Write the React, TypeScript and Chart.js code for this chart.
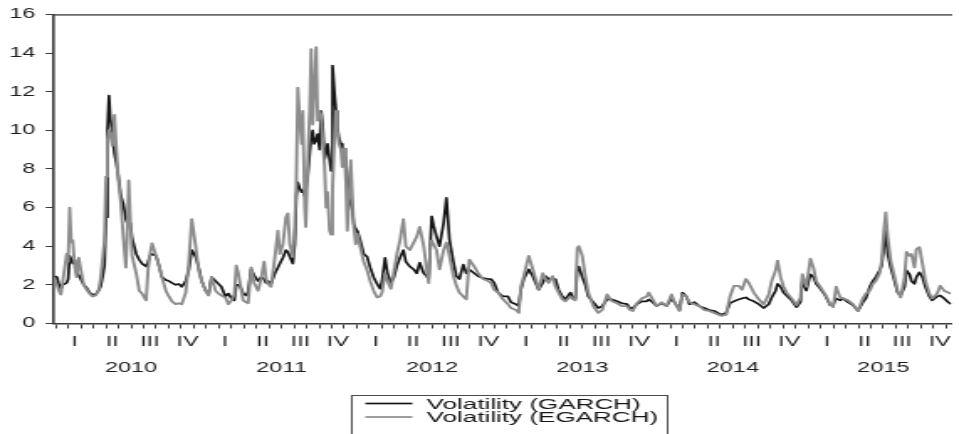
import React, { useEffect, useRef } from "react";
import { Chart, registerables } from "chart.js";

Chart.register(...registerables);

// Observation dates as decimal years
const dates = [
  2009.993, 2010.007, 2010.020, 2010.033, 2010.046, 2010.059, 2010.072, 2010.082, 2010.092, 2010.102,
  2010.112, 2010.125, 2010.138, 2010.152, 2010.165, 2010.185, 2010.204, 2010.224, 2010.244, 2010.264,
  2010.283, 2010.297, 2010.310, 2010.323, 2010.333, 2010.343, 2010.353, 2010.362, 2010.376, 2010.389,
  2010.402, 2010.415, 2010.432, 2010.448, 2010.465, 2010.474, 2010.484, 2010.494, 2010.507, 2010.534,
  2010.554, 2010.573, 2010.600, 2010.613, 2010.626, 2010.639, 2010.666, 2010.685, 2010.705, 2010.731,
  2010.751, 2010.771, 2010.797, 2010.817, 2010.837, 2010.863, 2010.883, 2010.903, 2010.929, 2010.949,
  2010.969, 2010.995, 2011.015, 2011.035, 2011.061, 2011.081, 2011.100, 2011.127, 2011.147, 2011.166,
  2011.186, 2011.199, 2011.213, 2011.226, 2011.245, 2011.265, 2011.278, 2011.298, 2011.318, 2011.344,
  2011.364, 2011.384, 2011.397, 2011.410, 2011.430, 2011.456, 2011.476, 2011.489, 2011.509, 2011.529,
  2011.542, 2011.555, 2011.575, 2011.588, 2011.598, 2011.608, 2011.621, 2011.634, 2011.641, 2011.654,
  2011.661, 2011.674, 2011.687, 2011.697, 2011.707, 2011.717, 2011.730, 2011.740, 2011.753, 2011.763,
  2011.773, 2011.786, 2011.796, 2011.806, 2011.819, 2011.829, 2011.839, 2011.852, 2011.862, 2011.871,
  2011.881, 2011.895, 2011.904, 2011.918, 2011.928, 2011.937, 2011.947, 2011.960, 2011.970, 2011.980,
  2011.993, 2012.003, 2012.023, 2012.046, 2012.069, 2012.089, 2012.112, 2012.135, 2012.155, 2012.168,
  2012.188, 2012.204, 2012.227, 2012.247, 2012.267, 2012.287, 2012.310, 2012.326, 2012.353, 2012.379,
  2012.399, 2012.418, 2012.445, 2012.465, 2012.478, 2012.488, 2012.498, 2012.511, 2012.530, 2012.550,
  2012.577, 2012.596, 2012.616, 2012.643, 2012.662, 2012.682, 2012.708, 2012.728, 2012.748, 2012.781,
  2012.807, 2012.840, 2012.873, 2012.893, 2012.913, 2012.939, 2012.972, 2013.005, 2013.025, 2013.058,
  2013.077, 2013.091, 2013.110, 2013.143, 2013.170, 2013.189, 2013.209, 2013.236, 2013.255, 2013.275,
  2013.301, 2013.321, 2013.341, 2013.367, 2013.387, 2013.420, 2013.440, 2013.453, 2013.466, 2013.476,
  2013.499, 2013.519, 2013.539, 2013.572, 2013.605, 2013.631, 2013.664, 2013.697, 2013.730, 2013.763,
  2013.796, 2013.815, 2013.835, 2013.862, 2013.895, 2013.927, 2013.941, 2013.967, 2013.993, 2014.026,
  2014.059, 2014.092, 2014.112, 2014.145, 2014.165, 2014.191, 2014.211, 2014.244, 2014.277, 2014.310,
  2014.343, 2014.376, 2014.422, 2014.455, 2014.481, 2014.507, 2014.540, 2014.560, 2014.587, 2014.606,
  2014.639, 2014.672, 2014.705, 2014.738, 2014.758, 2014.784, 2014.797, 2014.817, 2014.837, 2014.857,
  2014.890, 2014.923, 2014.949, 2014.962, 2014.988, 2015.015, 2015.035, 2015.054, 2015.081, 2015.114,
  2015.147, 2015.166, 2015.186, 2015.213, 2015.232, 2015.265, 2015.298, 2015.331, 2015.364, 2015.384,
  2015.410, 2015.430, 2015.450, 2015.476, 2015.489, 2015.502, 2015.516, 2015.529, 2015.549, 2015.575,
  2015.595, 2015.615, 2015.641, 2015.654, 2015.674, 2015.687, 2015.707, 2015.720, 2015.740, 2015.760,
  2015.779, 2015.806, 2015.825, 2015.858, 2015.878, 2015.904, 2015.931, 2015.951,
];

// Conditional volatility from the GARCH model
const garch = [
  2.45, 2.4, 2.0, 1.8, 2.0, 2.05, 2.1, 2.3, 3.5, 3.3,
  3.1, 3.3, 2.6, 2.5, 2.3, 2.0, 1.85, 1.6, 1.5, 1.5,
  1.7, 1.9, 2.4, 3.0, 5.5, 10.0, 11.8, 10.6, 9.8, 8.8,
  8.3, 7.6, 6.6, 6.2, 5.4, 5.2, 5.2, 5.2, 4.4, 3.6,
  3.3, 3.1, 2.95, 3.2, 3.5, 3.6, 3.5, 3.0, 2.4, 2.25,
  2.2, 2.1, 2.0, 2.05, 1.9, 2.2, 2.75, 3.8, 3.45, 2.9,
  2.2, 1.7, 1.5, 2.4, 2.2, 2.05, 1.9, 1.4, 1.55, 1.3,
  1.2, 2.0, 2.0, 1.9, 1.55, 1.45, 1.65, 2.8, 2.5, 2.2,
  2.4, 2.3, 2.1, 2.2, 2.05, 2.6, 2.9, 3.1, 3.4, 3.8,
  3.7, 3.45, 3.1, 4.1, 6.55, 7.3, 7.0, 6.8, 6.9, 6.6,
  7.0, 7.6, 8.8, 9.6, 10.0, 9.3, 9.5, 9.8, 9.0, 11.0,
  10.3, 8.5, 8.8, 9.3, 8.5, 7.9, 13.35, 11.9, 11.0, 10.2,
  9.6, 9.3, 8.8, 8.6, 8.4, 7.6, 6.5, 6.2, 5.9, 5.15,
  4.9, 4.8, 4.3, 3.6, 3.45, 2.9, 2.4, 2.05, 1.8, 2.2,
  3.4, 2.6, 2.1, 2.4, 3.0, 3.4, 3.8, 3.2, 2.95, 2.8,
  2.6, 3.15, 2.6, 2.45, 2.3, 3.85, 5.55, 5.05, 4.5, 4.0,
  5.2, 6.5, 4.35, 3.15, 2.45, 2.3, 3.05, 2.6, 2.8, 2.6,
  2.45, 2.35, 2.3, 2.3, 2.1, 1.6, 1.4, 1.4, 1.1, 1.0,
  0.9, 1.75, 2.3, 2.8, 2.45, 2.1, 1.75, 2.1, 2.45, 2.3,
  2.3, 2.3, 1.75, 1.4, 1.25, 1.6, 1.25, 1.3, 2.8, 2.95,
  2.4, 2.0, 1.4, 1.1, 0.8, 0.9, 1.25, 1.25, 1.15, 1.05,
  1.0, 0.8, 0.8, 1.0, 1.15, 1.15, 1.25, 1.1, 0.9, 1.05,
  0.9, 1.3, 1.1, 0.7, 1.6, 1.4, 1.0, 1.1, 0.9, 0.8,
  0.7, 0.65, 0.45, 0.55, 1.05, 1.15, 1.25, 1.3, 1.35, 1.25,
  1.15, 1.0, 0.8, 1.0, 1.35, 1.7, 2.05, 1.9, 1.6, 1.45,
  1.2, 0.85, 1.1, 2.2, 1.7, 2.55, 2.4, 2.05, 1.8, 1.45,
  0.95, 0.95, 1.3, 1.2, 1.3, 1.1, 0.95, 0.65, 1.1, 1.3,
  1.9, 2.2, 2.4, 2.75, 3.0, 3.8, 4.8, 3.6, 2.9, 2.2,
  1.6, 1.45, 1.9, 2.75, 2.55, 2.2, 2.05, 2.4, 2.65, 2.4,
  1.9, 1.4, 1.2, 1.4, 1.45, 1.3, 1.1, 1.0,
];

// Conditional volatility from the EGARCH model
const egarch = [
  2.2, 2.0, 1.7, 1.5, 2.2, 2.9, 3.6, 3.2, 6.0, 4.2,
  4.3, 3.0, 2.4, 3.4, 2.8, 2.0, 1.75, 1.55, 1.4, 1.45,
  1.7, 2.3, 3.3, 4.3, 7.6, 9.5, 10.0, 9.8, 9.2, 10.8,
  9.0, 7.5, 6.2, 4.5, 2.9, 4.5, 7.4, 5.5, 3.5, 2.6,
  1.7, 1.55, 1.2, 2.8, 3.6, 4.15, 3.5, 3.0, 2.4, 1.7,
  1.4, 1.15, 1.0, 1.05, 1.0, 1.6, 3.1, 5.4, 4.0, 2.75,
  2.2, 1.7, 1.45, 2.4, 1.7, 1.55, 1.45, 1.35, 1.0, 1.2,
  1.5, 3.0, 2.6, 2.0, 1.2, 1.1, 1.05, 2.9, 2.1, 1.7,
  2.3, 3.2, 2.3, 2.05, 1.9, 3.45, 4.8, 3.6, 4.1, 5.5,
  5.7, 4.1, 3.45, 5.0, 7.2, 12.2, 10.5, 9.3, 11.0, 6.0,
  5.0, 8.3, 11.0, 14.2, 10.3, 12.0, 14.3, 10.5, 11.0, 10.8,
  9.5, 8.1, 6.0, 6.8, 4.8, 4.6, 7.0, 9.6, 11.0, 10.0,
  9.3, 9.0, 8.1, 9.05, 7.2, 4.8, 6.3, 8.45, 6.7, 5.0,
  4.1, 4.65, 3.95, 3.2, 2.75, 2.2, 1.7, 1.35, 1.4, 1.6,
  2.6, 2.2, 1.8, 2.7, 3.6, 4.3, 5.4, 4.0, 3.8, 4.2,
  4.5, 5.0, 4.0, 2.8, 2.1, 3.8, 4.3, 4.1, 3.8, 2.8,
  3.8, 4.2, 3.5, 2.45, 1.95, 1.6, 1.4, 1.25, 3.3, 2.95,
  2.6, 2.3, 2.2, 2.1, 1.75, 1.6, 1.25, 1.0, 0.8, 0.7,
  0.55, 1.9, 2.45, 3.5, 2.8, 2.3, 1.75, 2.6, 2.3, 2.1,
  2.45, 1.9, 1.6, 1.25, 1.15, 1.4, 1.25, 1.2, 3.9, 4.0,
  3.5, 2.45, 1.6, 0.9, 0.55, 0.7, 1.5, 1.15, 1.05, 0.9,
  0.9, 0.7, 0.65, 1.05, 1.3, 1.4, 1.6, 1.25, 0.9, 1.1,
  0.9, 1.5, 1.1, 0.65, 1.5, 1.4, 1.1, 1.0, 0.9, 0.7,
  0.65, 0.55, 0.4, 0.45, 1.4, 1.95, 1.95, 1.75, 2.3, 2.1,
  1.6, 1.25, 1.0, 1.5, 2.2, 2.75, 3.25, 2.4, 1.9, 1.6,
  1.3, 0.95, 1.35, 2.55, 1.9, 3.35, 2.9, 2.2, 1.9, 1.5,
  1.0, 0.85, 1.9, 1.35, 1.3, 1.2, 1.0, 0.65, 1.3, 1.55,
  1.7, 2.05, 2.2, 2.6, 3.25, 4.65, 5.75, 4.5, 3.25, 2.4,
  1.7, 1.35, 2.4, 3.7, 3.5, 3.6, 2.9, 3.85, 3.95, 3.1,
  2.2, 1.55, 1.3, 1.55, 1.95, 1.7, 1.6, 1.55,
];

const seriesLabels = ["Volatility (GARCH)", "Volatility (EGARCH)"];
const years = [2010, 2011, 2012, 2013, 2014, 2015];
const quarterNames = ["I", "II", "III", "IV"];
const yMin = 0;
const yMax = 16;
const yStep = 2;
const xMin = 2009.987;
const xMax = 2015.951;

// Monthly minor ticks, quarter labels centred on each quarter, year labels centred on each year
const monthTicks = years
  .flatMap((y) => Array.from({ length: 12 }, (_, m) => y + m / 12))
  .filter((v) => v >= xMin && v <= xMax);
const quarterTicks = years
  .flatMap((y) => quarterNames.map((name, q) => ({ value: y + (q * 3 + 1.5) / 12, label: name })))
  .filter((t) => t.value <= xMax);
const yearTicks = years.map((y) => ({ value: y + 0.5, label: String(y) }));

const CANVAS_W = 571;
const CANVAS_H = 434;
const PAGE_W = 959;

const FONT = "'Liberation Sans', Arial, Helvetica, sans-serif";
const TEXT = "#1e1e1e";
const AXIS = "#3c3c3c";
const COLORS = ["#161616", "#8c8c8c"];

const legendBox = {
  id: "legendBox",
  afterDraw(chart: any) {
    const { ctx } = chart;
    ctx.save();
    ctx.strokeStyle = "#4a4a4a";
    ctx.lineWidth = 1;
    ctx.strokeRect(209.5, 395.5, 188, 60);
    ctx.font = `15.5px ${FONT}`;
    ctx.textBaseline = "middle";
    chart.data.datasets.forEach((ds: any, i: number) => {
      const y = 403.5 + i * 13.5;
      ctx.strokeStyle = ds.borderColor;
      ctx.lineWidth = 1.7;
      ctx.beginPath();
      ctx.moveTo(217.5, y);
      ctx.lineTo(245.5, y);
      ctx.stroke();
      ctx.fillStyle = "#161616";
      ctx.fillText(ds.label, 254, y + 1);
    });
    ctx.restore();
  },
};

export default function App() {
  const ref = useRef<HTMLCanvasElement | null>(null);

  useEffect(() => {
    if (!ref.current) return;
    Chart.defaults.font.family = FONT;
    const tickFont = { size: 14, family: FONT };

    const chart = new Chart(ref.current, {
      type: "line",
      data: {
        datasets: [
          {
            label: seriesLabels[0],
            data: dates.map((d, i) => ({ x: d, y: garch[i] })),
            borderColor: COLORS[0],
            borderWidth: 1.7,
            borderJoinStyle: "round",
            pointRadius: 0,
            tension: 0,
            order: 1,
            xAxisID: "x",
            yAxisID: "y",
          },
          {
            label: seriesLabels[1],
            data: dates.map((d, i) => ({ x: d, y: egarch[i] })),
            borderColor: COLORS[1],
            borderWidth: 1.9,
            borderJoinStyle: "round",
            pointRadius: 0,
            tension: 0,
            order: 0,
            xAxisID: "x",
            yAxisID: "y",
          },
        ],
      },
      options: {
        responsive: false,
        animation: false,
        events: [],
        layout: { autoPadding: false, padding: { top: 14, left: 0, right: 0, bottom: 53.5 } },
        plugins: { legend: { display: false }, tooltip: { enabled: false } },
        scales: {
          x: {
            type: "linear",
            position: "bottom",
            min: xMin,
            max: xMax,
            weight: 0,
            afterBuildTicks: (s: any) => {
              s.ticks = monthTicks.map((v) => ({ value: v }));
            },
            ticks: { display: false },
            grid: { drawOnChartArea: false, drawTicks: true, tickLength: 5, color: AXIS, lineWidth: 1 },
            border: { display: true, color: AXIS, width: 1.6 },
            afterFit: (s: any) => {
              s.height = 5;
            },
          },
          xq: {
            type: "linear",
            position: "bottom",
            min: xMin,
            max: xMax,
            weight: 1,
            afterBuildTicks: (s: any) => {
              s.ticks = quarterTicks.map((t) => ({ value: t.value }));
            },
            ticks: {
              autoSkip: false,
              maxRotation: 0,
              minRotation: 0,
              padding: 4.8,
              font: tickFont,
              color: TEXT,
              callback: (_v: any, i: number) => quarterTicks[i]?.label ?? "",
            },
            grid: { display: false, drawTicks: false },
            border: { display: false },
            afterFit: (s: any) => {
              s.height = 22;
            },
          },
          xy: {
            type: "linear",
            position: "bottom",
            min: xMin,
            max: xMax,
            weight: 2,
            afterBuildTicks: (s: any) => {
              s.ticks = yearTicks.map((t) => ({ value: t.value }));
            },
            ticks: {
              autoSkip: false,
              maxRotation: 0,
              minRotation: 0,
              padding: 9.4,
              font: tickFont,
              color: TEXT,
              callback: (_v: any, i: number) => yearTicks[i]?.label ?? "",
            },
            grid: { display: false, drawTicks: false },
            border: { display: false },
            afterFit: (s: any) => {
              s.height = 30;
            },
          },
          xt: {
            type: "linear",
            position: "top",
            min: xMin,
            max: xMax,
            ticks: { display: false },
            grid: { display: false, drawTicks: false },
            border: { display: true, color: "#6a6a6a", width: 1.8 },
            afterFit: (s: any) => {
              s.height = 0;
            },
          },
          y: {
            type: "linear",
            position: "left",
            min: yMin,
            max: yMax,
            ticks: { stepSize: yStep, font: tickFont, color: TEXT, padding: 6 },
            grid: { drawOnChartArea: false, tickLength: 5, color: AXIS, lineWidth: 1 },
            border: { display: true, color: AXIS, width: 1.6 },
            afterFit: (s: any) => {
              s.width = 32.1;
            },
          },
        },
      } as any,
      plugins: [legendBox],
    });

    return () => chart.destroy();
  }, []);

  return (
    <div
      style={{
        position: "absolute",
        left: 0,
        top: 0,
        width: PAGE_W,
        height: CANVAS_H,
        overflow: "hidden",
        background: "#fff",
      }}
    >
      <div
        style={{
          width: CANVAS_W,
          height: CANVAS_H,
          transform: `scaleX(${PAGE_W / CANVAS_W})`,
          transformOrigin: "0 0",
        }}
      >
        <canvas
          ref={ref}
          width={CANVAS_W}
          height={CANVAS_H}
          style={{ display: "block", width: CANVAS_W, height: CANVAS_H }}
        />
      </div>
    </div>
  );
}
